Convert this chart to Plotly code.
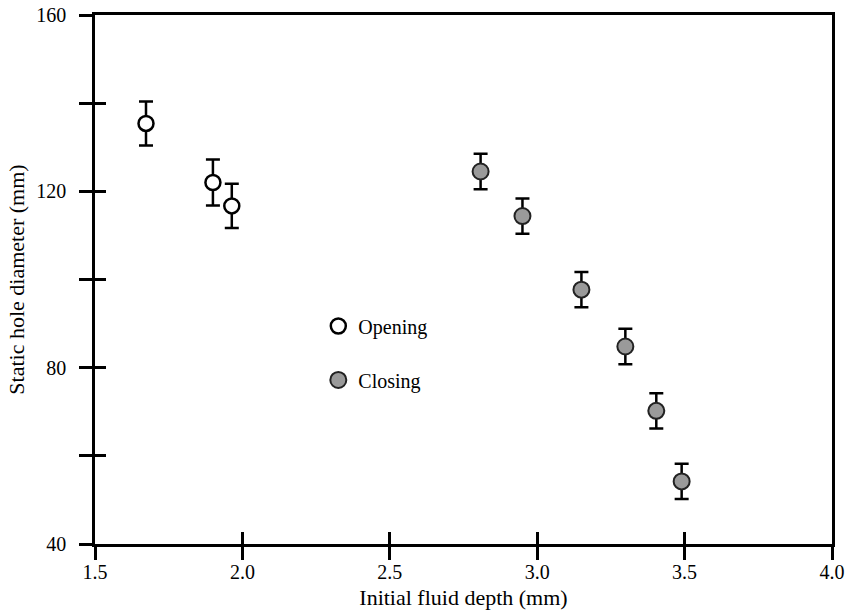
import plotly.graph_objects as go

# Opening data
open_x = [1.673, 1.90, 1.964]
open_y = [135.4, 122.0, 116.7]
open_err = [5.0, 5.2, 5.0]

# Closing data
close_x = [2.808, 2.95, 3.15, 3.299, 3.404, 3.49]
close_y = [124.5, 114.4, 97.7, 84.8, 70.2, 54.2]
close_err = [4.0, 4.0, 4.0, 4.0, 4.0, 4.0]

x_ticks = [1.5, 2.0, 2.5, 3.0, 3.5, 4.0]
x_tick_labels = ["1.5", "2.0", "2.5", "3.0", "3.5", "4.0"]
y_ticks = [40, 60, 80, 100, 120, 140, 160]
y_tick_labels = ["40", "", "80", "", "120", "", "160"]

FONT = "Times New Roman"

fig = go.Figure()
fig.add_trace(go.Scatter(
    x=open_x, y=open_y, mode="markers", name="Opening",
    marker=dict(symbol="circle", size=15, color="white",
                line=dict(color="black", width=2.5)),
    error_y=dict(type="data", array=open_err, color="black", thickness=2.5, width=7),
    legendgroup="a",
))
fig.add_trace(go.Scatter(
    x=close_x, y=close_y, mode="markers", name="Closing",
    marker=dict(symbol="circle", size=16, color="#9a9a9a",
                line=dict(color="#222222", width=2)),
    error_y=dict(type="data", array=close_err, color="black", thickness=2.5, width=7),
    legendgroup="b",
))
fig.add_trace(go.Scatter(x=[None], y=[None], xaxis="x2", yaxis="y2",
                         showlegend=False, hoverinfo="skip"))

fig.update_layout(
    width=846, height=615,
    margin=dict(l=95, r=14, t=15, b=71),
    paper_bgcolor="white", plot_bgcolor="white",
    font=dict(family=FONT, color="black", size=20),
    showlegend=True,
    legend=dict(x=0.303, y=0.449, xanchor="left", yanchor="top",
                bgcolor="rgba(0,0,0,0)", font=dict(size=20, family=FONT),
                tracegroupgap=25, traceorder="grouped"),
    xaxis=dict(range=[1.5, 4.0], tickvals=x_ticks, ticktext=x_tick_labels,
               ticks="outside", ticklen=13, tickwidth=2.5, tickcolor="black",
               showline=True, linecolor="black", linewidth=2.5, mirror=True,
               showgrid=False, zeroline=False, automargin=False,
               ticklabeloverflow="allow", ticklabelstandoff=-5,
               tickfont=dict(size=20, family=FONT),
               title=dict(text="Initial fluid depth (mm)", font=dict(size=22, family=FONT), standoff=8)),
    yaxis=dict(range=[40, 160], tickvals=y_ticks, ticktext=y_tick_labels,
               ticks="outside", ticklen=13, tickwidth=2.5, tickcolor="black",
               showline=True, linecolor="black", linewidth=2.5, mirror=True,
               showgrid=False, zeroline=False, automargin=False,
               ticklabeloverflow="allow", ticklabelstandoff=9,
               tickfont=dict(size=20, family=FONT),
               title=dict(text="Static hole diameter (mm)", font=dict(size=22, family=FONT), standoff=6)),
    xaxis2=dict(range=[1.5, 4.0], overlaying="x", anchor="y", side="bottom",
                tickvals=[2.0, 2.5, 3.0, 3.5], ticks="inside", ticklen=12, tickwidth=2.5,
                tickcolor="black", showticklabels=False, showgrid=False, zeroline=False,
                showline=False, automargin=False),
    yaxis2=dict(range=[40, 160], overlaying="y", anchor="x", side="left",
                tickvals=[40, 60, 80, 100, 120, 140], ticks="inside", ticklen=11, tickwidth=2.5,
                tickcolor="black", showticklabels=False, showgrid=False, zeroline=False,
                showline=False, automargin=False),
)

fig.write_html("out.html")
